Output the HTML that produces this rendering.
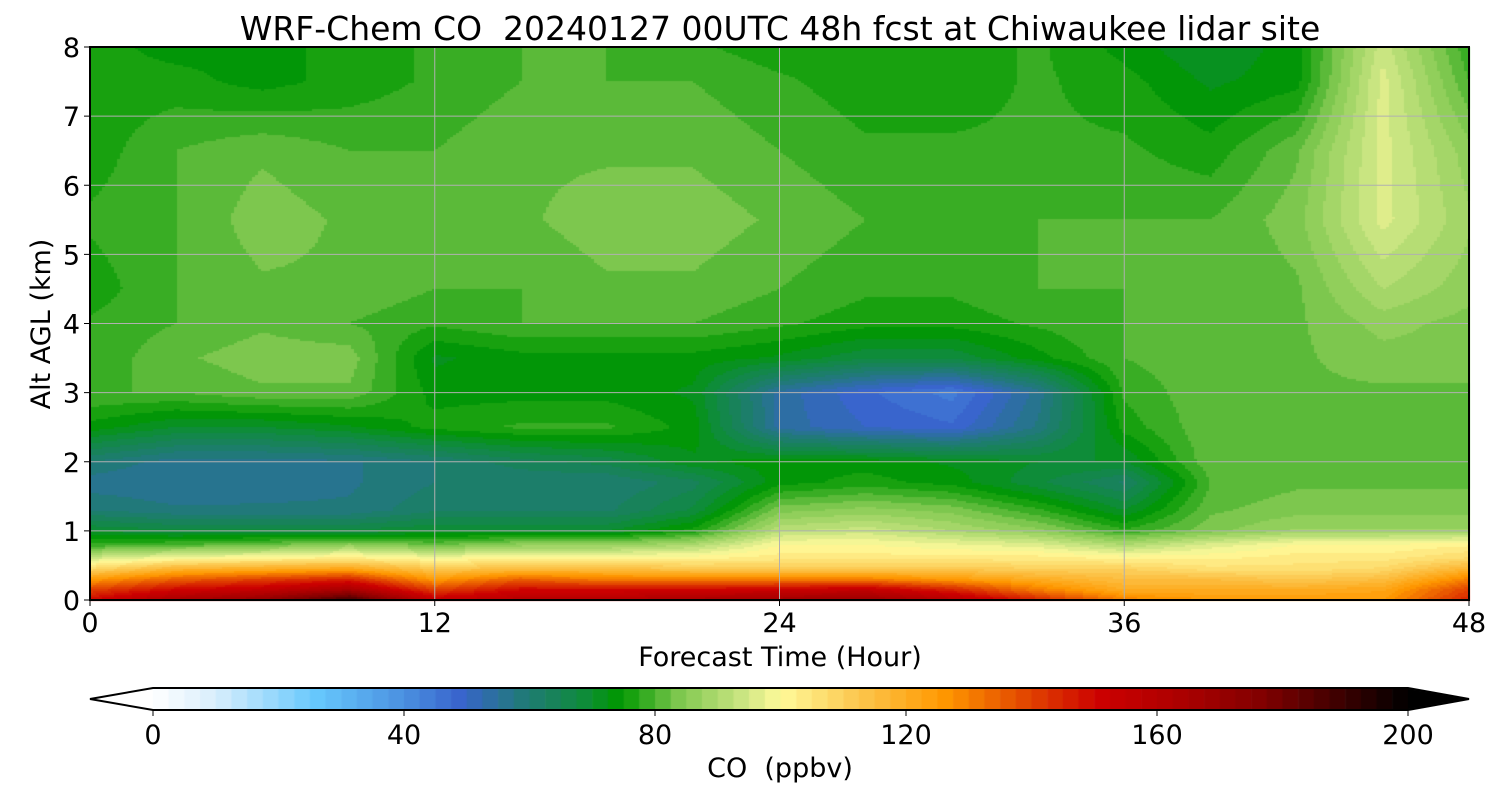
<!DOCTYPE html>
<html><head><meta charset="utf-8"><style>
body{margin:0;background:#fff;width:1500px;height:800px;overflow:hidden;font-family:"DejaVu Sans","Liberation Sans",sans-serif}
#wrap{position:relative;width:1500px;height:800px}
canvas,svg{position:absolute;left:0;top:0}
</style></head><body>
<div id="wrap">
<canvas id="cv" width="1500" height="800"></canvas>
<svg id="sv" width="1500" height="800" font-family="DejaVu Sans, Liberation Sans, sans-serif"></svg>
</div>
<script>
const times=[0,3,6,9,12,15,18,21,24,27,30,33,36,39,42,45,48];
const heights=[0,0.15,0.3,0.45,0.6,0.8,1.0,1.3,1.7,2.0,2.5,3.0,3.5,4.0,4.5,5.5,6.5,7.5,8.0];
const coValues=[
[150,165,172,190,155,160,160,165,168,170,160,145,130,125,125,125,145],
[140,150,155,165,140,150,150,150,152,155,145,130,120,120,120,122,140],
[125,135,140,145,125,135,130,130,130,130,125,120,115,115,112,115,130],
[108,118,120,122,112,115,115,112,112,112,112,110,110,106,106,108,118],
[95,100,102,104,100,102,102,102,104,104,104,104,102,102,104,104,108],
[78,80,82,86,82,86,86,90,100,100,98,96,90,96,100,100,102],
[70,68,68,68,70,70,70,76,92,94,90,86,78,84,88,88,88],
[60,58,58,58,62,62,62,68,84,86,84,78,70,82,84,84,84],
[56,55,56,57,60,60,60,64,74,76,74,68,62,80,82,82,82],
[60,56,56,57,60,64,66,72,74,74,72,70,70,82,82,82,82],
[74,70,70,72,76,78,78,74,54,50,48,58,76,82,82,82,82],
[80,80,82,82,74,74,74,72,54,48,44,56,78,82,82,82,82],
[78,82,84,84,72,74,74,74,72,68,68,74,80,82,82,84,84],
[78,80,82,80,78,80,80,80,78,76,76,78,80,80,82,86,84],
[76,80,82,82,80,80,82,82,80,78,78,80,80,80,82,90,86],
[78,80,84,82,80,82,84,84,82,80,80,80,80,80,84,96,88],
[76,80,82,80,80,82,82,82,80,78,78,78,78,76,82,96,86],
[76,76,74,76,78,80,80,80,78,76,76,78,76,72,74,96,80],
[76,74,74,76,78,80,80,78,76,76,76,78,74,70,74,94,78]];
const xTicks=[0,12,24,36,48];
const yTicks=[0,1,2,3,4,5,6,7,8];
const cbTicks=[0,40,80,120,160,200];
const stops=[[0,'#ffffff'],[10,'#d8eefc'],[26,'#66c8fc'],[40,'#4a90e0'],[49,'#3864cc'],[59,'#207a78'],[68,'#108a40'],[74.5,'#009800'],[84,'#80c850'],[93.6,'#c8e480'],[100,'#fffa9a'],[112,'#fcc850'],[126,'#ff9800'],[140,'#e04000'],[151,'#cc0000'],[165,'#a80000'],[177,'#800000'],[200,'#000000']];
const X0=90,X1=1469,Y0=600,Y1=47;
const sx=t=>X0+(t-0)/48*(X1-X0), sy=h=>Y0-(h/8)*(Y0-Y1);
function hex(c){return [parseInt(c.slice(1,3),16),parseInt(c.slice(3,5),16),parseInt(c.slice(5,7),16)];}
function cmap(v){v=Math.max(0,Math.min(200,v));
 for(let i=1;i<stops.length;i++){if(v<=stops[i][0]){const a=hex(stops[i-1][1]),b=hex(stops[i][1]);const f=(v-stops[i-1][0])/(stops[i][0]-stops[i-1][0]);return `rgb(${a.map((x,k)=>Math.round(x+(b[k]-x)*f)).join(',')})`;}}return '#000';}
function q(v){return Math.floor(v/2.5)*2.5+1.25;}
function interp(t,h){let i=0;while(i<times.length-2&&t>times[i+1])i++;let j=0;while(j<heights.length-2&&h>heights[j+1])j++;
 const ft=(t-times[i])/(times[i+1]-times[i]),fh=(h-heights[j])/(heights[j+1]-heights[j]);
 const a=coValues[j][i],b=coValues[j][i+1],c=coValues[j+1][i],d=coValues[j+1][i+1];
 return (a*(1-ft)+b*ft)*(1-fh)+(c*(1-ft)+d*ft)*fh;}
const ctx=document.getElementById('cv').getContext('2d');
for(let px=X0;px<X1;px+=3){for(let py=Y1;py<Y0;py+=2){const t=(px+1.5-X0)/(X1-X0)*48,h=(Y0-py-1)/(Y0-Y1)*8;ctx.fillStyle=cmap(q(interp(t,h)));ctx.fillRect(px,py,3,2);}}
const C0=153,C1=1408,CT=688,CB=710;
for(let v=0;v<200;v+=2.5){ctx.fillStyle=cmap(v+1.25);ctx.fillRect(C0+v/200*(C1-C0),CT,(C1-C0)/80+0.6,CB-CT);}
ctx.fillStyle='#000';ctx.beginPath();ctx.moveTo(C1,CT);ctx.lineTo(1469,(CT+CB)/2);ctx.lineTo(C1,CB);ctx.fill();
const sv=document.getElementById('sv');const NS='http://www.w3.org/2000/svg';
function el(tag,attrs,txt){const e=document.createElementNS(NS,tag);for(const k in attrs)e.setAttribute(k,attrs[k]);if(txt!==undefined)e.textContent=txt;sv.appendChild(e);return e;}
xTicks.forEach(t=>{const g=el('line',{x1:sx(t),x2:sx(t),y1:Y1,y2:Y0,stroke:'#b0b0b0','stroke-width':1});
 el('line',{x1:sx(t),x2:sx(t),y1:Y0,y2:Y0+6,stroke:'#000'});
 const l=el('text',{x:sx(t),y:632,'text-anchor':'middle','font-size':27},t);});
yTicks.forEach(h=>{const g=el('line',{x1:X0,x2:X1,y1:sy(h),y2:sy(h),stroke:'#b0b0b0','stroke-width':1});
 el('line',{x1:X0-6,x2:X0,y1:sy(h),y2:sy(h),stroke:'#000'});
 const l=el('text',{x:80,y:sy(h)+10,'text-anchor':'end','font-size':27},h);});
const fr=el('rect',{x:X0,y:Y1,width:X1-X0,height:Y0-Y1,fill:'none',stroke:'#000','stroke-width':2});
const cbo=el('path',{d:`M${C0},${CT} L${C1},${CT} L1469,${(CT+CB)/2} L${C1},${CB} L${C0},${CB} L90,${(CT+CB)/2} Z`,fill:'none',stroke:'#000','stroke-width':2});
cbTicks.forEach(v=>{const x=C0+v/200*(C1-C0);el('line',{x1:x,x2:x,y1:CB,y2:CB+6,stroke:'#000'});
 const l=el('text',{x:x,y:744,'text-anchor':'middle','font-size':27},v);});
let t1=el('text',{x:780,y:40,'text-anchor':'middle','font-size':33},'WRF-Chem CO\u00a0\u00a020240127 00UTC 48h fcst at Chiwaukee lidar site');
let t2=el('text',{x:780,y:666,'text-anchor':'middle','font-size':27},'Forecast Time (Hour)');
let t3=el('text',{x:50,y:324,'text-anchor':'middle','font-size':27,transform:'rotate(-90 50 324)'},'Alt AGL (km)');
let t4=el('text',{x:780,y:777,'text-anchor':'middle','font-size':27},'CO\u00a0\u00a0(ppbv)');
</script>
</body></html>
